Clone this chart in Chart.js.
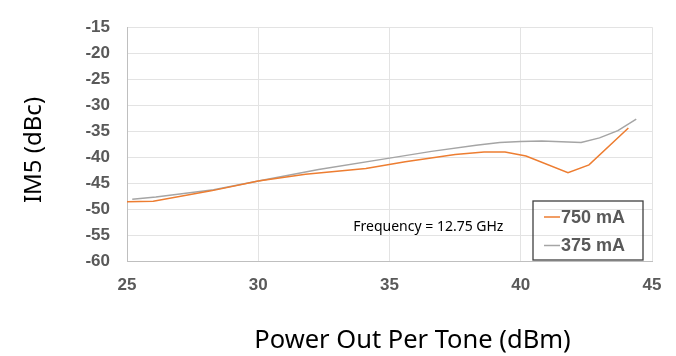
<!DOCTYPE html>
<html>
<head>
<meta charset="utf-8">
<script src="https://cdn.jsdelivr.net/npm/chart.js@4.4.1/dist/chart.umd.min.js"></script>
<style>
  html, body { margin: 0; padding: 0; background: #fff; }
  #wrap { width: 676px; height: 356px; position: relative; }
</style>
</head>
<body>
<div id="wrap"><canvas id="im5-graph"></canvas></div>
<script>
// values
const power750 = [25.0, 26.0, 28.2, 30.0, 31.8, 34.1, 35.6, 37.5, 38.6, 39.4, 40.2, 41.8, 42.6, 44.1]
const im5_750 = [-48.6, -48.5, -46.5, -44.6, -43.3, -42.2, -40.9, -39.5, -39.0, -39.0, -39.8, -43.0, -41.5, -34.4]

const power375 = [25.2, 26.1, 28.3, 30.0, 32.3, 35.0, 36.6, 38.3, 39.2, 40.0, 40.8, 42.3, 43.0, 43.7, 44.4]
const im5_375 = [-48.1, -47.7, -46.3, -44.6, -42.4, -40.2, -38.9, -37.7, -37.2, -37.0, -36.9, -37.2, -36.3, -34.9, -32.7]

const seriesLabels = ['750 mA', '375 mA']
const seriesColors = ['#ED7D31', '#A5A5A5']

const xTitle = 'Power Out Per Tone (dBm)'
const yTitle = 'IM5 (dBc)'
const noteText = 'Frequency = 12.75 GHz'
const notePos = { x: 36.48, y: -53.4 }

const ctx = document.getElementById('im5-graph')

const toPoints = (xs, ys) => xs.map((x, i) => ({ x: x, y: ys[i] }))

// axis titles, annotation and the legend box in the lower right corner
const extrasPlugin = {
   id: 'extras',
   afterDraw(chart) {
      const c = chart.ctx
      const area = chart.chartArea
      const xs = chart.scales.x
      const ys = chart.scales.y

      c.save()
      // frequency note
      c.font = '14px "Noto Sans"'
      c.fillStyle = '#000'
      c.textAlign = 'center'
      c.textBaseline = 'middle'
      c.fillText(noteText, xs.getPixelForValue(notePos.x), ys.getPixelForValue(notePos.y))

      // legend
      const boxR = area.right - 9
      const boxB = area.bottom - 1
      const boxW = 110
      const boxH = 59
      c.strokeStyle = '#404040'
      c.lineWidth = 1.3
      c.strokeRect(boxR - boxW, boxB - boxH, boxW, boxH)
      c.font = 'bold 18px "Liberation Sans", Arial'
      c.textAlign = 'left'
      chart.data.datasets.forEach((ds, i) => {
         const yy = boxB - boxH + 16 + i * 28.5
         c.strokeStyle = ds.borderColor
         c.lineWidth = 1.5
         c.beginPath()
         c.moveTo(boxR - boxW + 11, yy)
         c.lineTo(boxR - boxW + 27, yy)
         c.stroke()
         c.fillStyle = '#595959'
         c.fillText(ds.label, boxR - boxW + 28, yy + 1)
      })

      // axis titles
      c.font = '25.5px "Noto Sans"'
      c.fillStyle = '#000'
      c.textAlign = 'center'
      c.textBaseline = 'alphabetic'
      c.fillText(xTitle, (area.left + area.right) / 2 + 23, 348)

      c.font = '24px "Noto Sans"'
      c.translate(41, 150)
      c.rotate(-Math.PI / 2)
      c.fillText(yTitle, 0, 0)
      c.restore()
   }
}

const im5Graph = new Chart(ctx, {
   type: 'line',
   data: {
      datasets: [{
         label: seriesLabels[0],
         data: toPoints(power750, im5_750),
         borderColor: seriesColors[0],
         borderWidth: 1.5,
         pointRadius: 0,
         tension: 0
      }, {
         label: seriesLabels[1],
         data: toPoints(power375, im5_375),
         borderColor: seriesColors[1],
         borderWidth: 1.5,
         pointRadius: 0,
         tension: 0
      }]
   },
   options: {
      responsive: true,
      maintainAspectRatio: false,
      animation: false,
      layout: { padding: { top: 17, right: 24, left: 0, bottom: 0 } },
      plugins: {
         legend: { display: false },
         tooltip: { enabled: false }
      },
      scales: {
         x: {
            type: 'linear',
            min: 25,
            max: 45,
            afterFit: (scale) => { scale.height = 95 },
            ticks: {
               stepSize: 5,
               padding: 14,
               color: '#595959',
               font: { family: '"Liberation Sans", Arial', size: 17, weight: 'bold' }
            },
            grid: { color: '#e3e3e3', drawTicks: false },
            border: { color: '#bfbfbf' }
         },
         y: {
            min: -60,
            max: -15,
            afterFit: (scale) => { scale.width = 127 },
            ticks: {
               stepSize: 5,
               padding: 17,
               color: '#595959',
               font: { family: '"Liberation Sans", Arial', size: 17, weight: 'bold' }
            },
            grid: { color: '#e3e3e3', drawTicks: false },
            border: { color: '#bfbfbf' }
         }
      }
   },
   plugins: [extrasPlugin]
})
</script>
</body>
</html>
